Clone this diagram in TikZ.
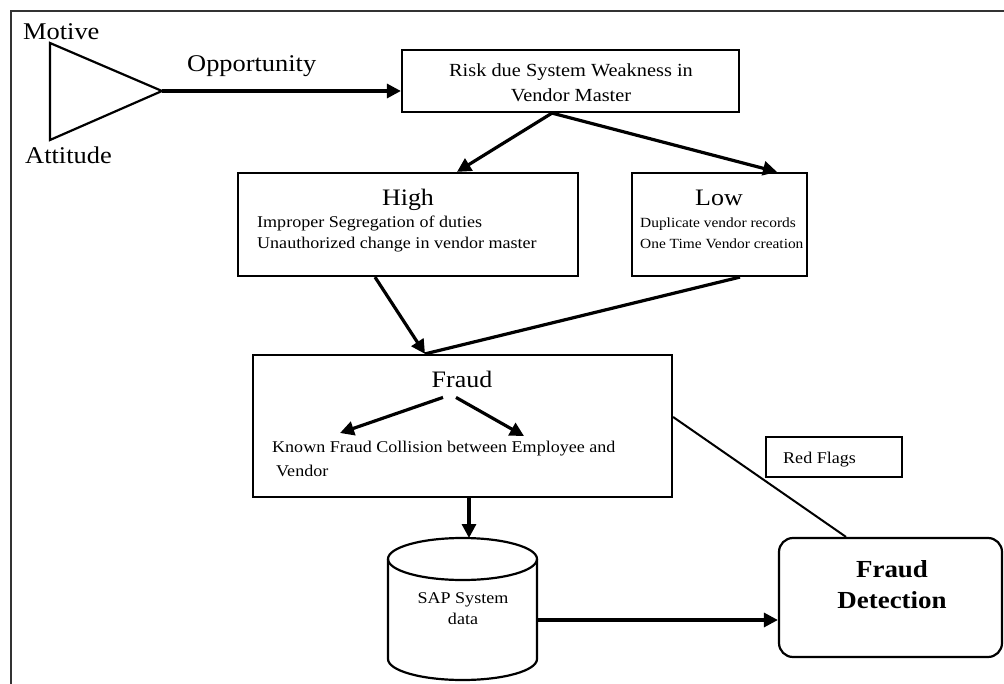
\documentclass[tikz,border=0pt]{standalone}
\usepackage{fontspec}
\setmainfont[FakeStretch=1.1]{Liberation Serif}
\usetikzlibrary{arrows.meta,calc}

\tikzset{
  frame/.style={draw=black!80, line width=1.8pt},
  box/.style={draw, line width=2.2pt, inner sep=0pt},
  spot/.style={inner sep=0pt, outer sep=0pt},
  flow/.style={line width=3.2pt, -{Triangle[length=14pt,width=14pt]}},
  plainflow/.style={line width=3.2pt},
  link/.style={line width=2pt},
  outline/.style={line width=2.2pt},
  side/.style={inner sep=0pt, font=\fontsize{24}{28}\selectfont},
  head/.style={inner sep=0pt, font=\fontsize{23.6}{28}\selectfont},
  risktxt/.style={inner sep=0pt, font=\fontsize{18.5}{22}\selectfont},
  body/.style={inner sep=0pt, font=\fontsize{16.4}{20}\selectfont},
  smallbody/.style={inner sep=0pt, font=\fontsize{14}{18}\selectfont},
  bighead/.style={inner sep=0pt, font=\fontsize{24.5}{30}\selectfont\bfseries},
}

\begin{document}
\begin{tikzpicture}[x=1pt,y=-1pt]
\useasboundingbox (0,0) rectangle (1004,684);
\clip (0,0) rectangle (1004,684);

% page frame
\draw[frame] (11,11) rectangle (1014,694);

% motive / attitude / opportunity triangle
\coordinate (tritop) at (50,43);
\coordinate (tribot) at (50,140);
\coordinate (apex) at (162,91);
\draw[outline, line join=miter] (tritop) -- (apex) -- (tribot) -- cycle;
\node[side, anchor=base west] (motive) at (23,40) {Motive};
\node[side, anchor=base west] (attitude) at (25,164) {Attitude};
\node[side, anchor=base west] (opportunity) at (187,72) {Opportunity};

% boxes
\node[box, minimum width=337pt, minimum height=62pt] (risk) at (570.5,81) {};
\node[box, minimum width=340pt, minimum height=103pt] (high) at (408,224.5) {};
\node[box, minimum width=175pt, minimum height=103pt] (low) at (719.5,224.5) {};
\node[box, minimum width=419pt, minimum height=142pt] (fraud) at (462.5,426) {};
\node[box, minimum width=136pt, minimum height=40pt] (redflags) at (834,457) {};
\node[box, rounded corners=14pt, minimum width=223pt, minimum height=119pt] (detect) at (890.5,597.5) {};
\node[spot, minimum width=149pt, minimum height=142pt] (sapdb) at (462.5,609) {};

% database cylinder
\draw[outline] ([yshift=-21pt]sapdb.north) ellipse [x radius=74.5pt, y radius=21pt];
\draw[outline] ([yshift=-21pt]sapdb.north west) -- ([yshift=21pt]sapdb.south west)
  arc[start angle=180, end angle=360, x radius=74.5pt, y radius=21pt]
  -- ([yshift=-21pt]sapdb.north east);

% texts
\node[risktxt, anchor=base] (risk1) at (571,77) {Risk due System Weakness in};
\node[risktxt, anchor=base] (risk2) at (571,102) {Vendor Master};

\node[head, anchor=base] (highlbl) at (408,206) {High};
\node[body, anchor=base west] (high1) at (257,228) {Improper Segregation of duties};
\node[body, anchor=base west] (high2) at (257,249) {Unauthorized change in vendor master};

\node[head, anchor=base] (lowlbl) at (719,206) {Low};
\node[smallbody, anchor=base west] (low1) at (640,228) {Duplicate vendor records};
\node[smallbody, anchor=base west] (low2) at (640,249) {One Time Vendor creation};

\node[head, anchor=base] (fraudlbl) at (462,388) {Fraud};
\node[body, anchor=base west] (known1) at (272,453) {Known Fraud Collision between Employee and};
\node[body, anchor=base west] (known2) at (276,476) {Vendor};

\node[body, anchor=base west] (redlbl) at (783,463) {Red Flags};

\node[bighead, anchor=base] (det1) at (892,577) {Fraud};
\node[bighead, anchor=base] (det2) at (892,608) {Detection};

\node[body, anchor=base] (sap1) at (463,603) {SAP System};
\node[body, anchor=base] (sap2) at (463,624) {data};

% connectors
\draw[flow] (apex) -- (apex -| risk.west);
\draw[flow] ([xshift=-18.5pt]risk.south) -- ([xshift=49pt]high.north);
\draw[flow] ([xshift=-18.5pt]risk.south) -- ([xshift=57.5pt]low.north);
\draw[plainflow] ([xshift=20.5pt]low.south) -- ([xshift=-37.5pt]fraud.north);
\draw[flow] ([xshift=-33pt]high.south) -- ([xshift=-37.5pt]fraud.north);

\coordinate (fleft) at (340,433);
\coordinate (fright) at (524,436);
\draw[flow] ([xshift=-19pt,yshift=-9pt]fraudlbl.south) -- (fleft);
\draw[flow] ([xshift=-6pt,yshift=-9pt]fraudlbl.south) -- (fright);

\draw[flow] ([xshift=6.5pt]fraud.south) -- ([xshift=6.5pt]sapdb.north);
\draw[flow] ([yshift=-11pt]sapdb.east) -- ([yshift=-11pt]sapdb.east -| detect.west);
\draw[link] ([yshift=9pt]fraud.east) -- ([xshift=-44.5pt]detect.north);

\end{tikzpicture}
\end{document}
